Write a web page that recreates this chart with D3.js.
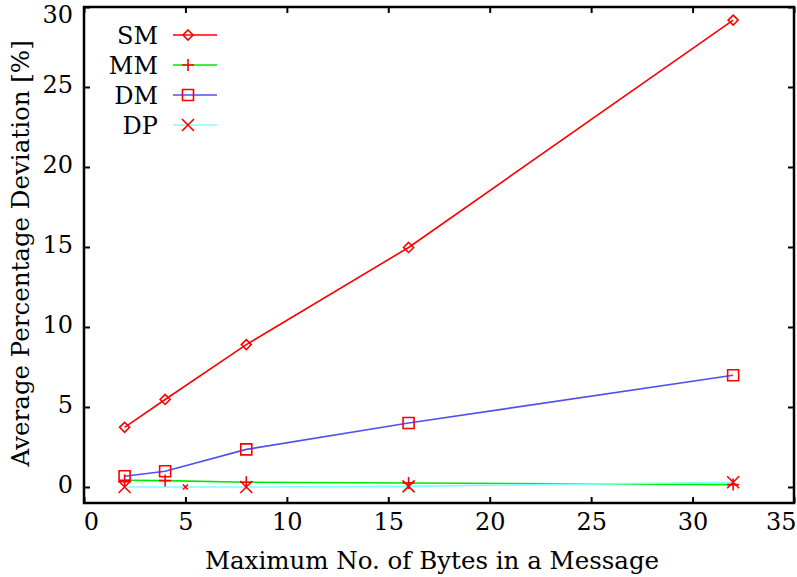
<!DOCTYPE html>
<html>
<head>
<meta charset="utf-8">
<script src="https://cdn.jsdelivr.net/npm/d3@7"></script>
<style>
  body { margin: 0; background: #fff; }
  text { font-family: "DejaVu Serif", serif; fill: #000; }
</style>
</head>
<body>
<div id="chart"></div>
<script>
/* DATA */
const bytes = [2, 4, 8, 16, 32];
const dpBytes = [2, 5, 8, 16, 32];
const smValues = [3.73, 5.47, 8.9, 14.97, 29.18];
const mmValues = [0.42, 0.4, 0.3, 0.25, 0.15];
const dmValues = [0.67, 0.98, 2.35, 4.0, 6.98];
const dpValues = [0.0, 0.0, 0.0, 0.04, 0.3];
const xTicks = [0, 5, 10, 15, 20, 25, 30, 35];
const yTicks = [0, 5, 10, 15, 20, 25, 30];

const series = [
  { name: "SM", xs: bytes, values: smValues, line: "#ff0000", marker: "diamond" },
  { name: "MM", xs: bytes, values: mmValues, line: "#00e800", marker: "plus" },
  { name: "DM", xs: bytes, values: dmValues, line: "#5050f0", marker: "square" },
  { name: "DP", xs: dpBytes, values: dpValues, line: "#80ffff", marker: "cross" }
];

/* CONSTANTS */
const width = 797, height = 577;
const margin = { top: 7, right: 3, bottom: 74, left: 84 };
const fontSize = "24px";

const svg = d3.select("#chart").append("svg")
  .attr("width", width)
  .attr("height", height);

const xScale = d3.scaleLinear()
  .domain([0, 35])
  .range([margin.left, width - margin.right]);

const yScale = d3.scaleLinear()
  .domain([-1, 30])
  .range([height - margin.bottom, margin.top]);

// marker drawing
function marker(sel, type, size) {
  const s = size;
  const path = {
    diamond: `M0,${-s}L${s},0L0,${s}L${-s},0Z`,
    square: `M${-s},${-s}H${s}V${s}H${-s}Z`,
    plus: `M${-s},0H${s}M0,${-s}V${s}`,
    cross: `M${-s},${-s}L${s},${s}M${s},${-s}L${-s},${s}`
  }[type];
  sel.append("path")
    .attr("d", path)
    .attr("fill", "none")
    .attr("stroke", "#ff0000")
    .attr("stroke-width", 1.6);
}
const markerSize = { diamond: 5, square: 5.5, plus: 6, cross: 6 };

/* AXES */
const xAxis = d3.axisBottom(xScale).tickValues(xTicks).tickSize(-6).tickPadding(10);
const yAxis = d3.axisLeft(yScale).tickValues(yTicks).tickSize(-6).tickPadding(11);

const gx = svg.append("g")
  .attr("transform", `translate(0, ${height - margin.bottom})`)
  .call(xAxis);
const gy = svg.append("g")
  .attr("transform", `translate(${margin.left}, 0)`)
  .call(yAxis);

// mirrored ticks on top and right
svg.append("g")
  .attr("transform", `translate(0, ${margin.top})`)
  .call(d3.axisTop(xScale).tickValues(xTicks).tickSize(-6).tickFormat(""));
svg.append("g")
  .attr("transform", `translate(${width - margin.right}, 0)`)
  .call(d3.axisRight(yScale).tickValues(yTicks).tickSize(-6).tickFormat(""));

svg.selectAll(".domain").remove();
svg.selectAll(".tick line").attr("stroke", "#000").attr("stroke-width", 2);
svg.selectAll(".tick text").style("font-size", fontSize).attr("font-family", "DejaVu Serif");
gx.selectAll(".tick text").attr("dy", "0.71em");
gy.selectAll(".tick text").attr("dy", "0.22em");
// outermost labels nudged inward like in the original
gx.selectAll(".tick text").filter(d => d === 0).attr("x", 7);
gx.selectAll(".tick text").filter(d => d === 35).attr("text-anchor", "end").attr("x", 2);
gy.selectAll(".tick text").filter(d => d === 30).attr("dy", "15px");

/* LINES */
const line = xs => d3.line()
  .x((d, i) => xScale(xs[i]))
  .y(d => yScale(d));

series.forEach(s => {
  svg.append("path")
    .datum(s.values)
    .attr("d", line(s.xs))
    .attr("fill", "none")
    .attr("stroke", s.line)
    .attr("stroke-width", 1.6);
});

series.forEach(s => {
  s.values.forEach((v, i) => {
    const g = svg.append("g")
      .attr("transform", `translate(${xScale(s.xs[i])}, ${yScale(v)})`);
    // the DP point at x=5 is drawn with a tiny marker in the original
    const size = (s.name === "DP" && i === 1) ? 2.5 : markerSize[s.marker];
    marker(g, s.marker, size);
  });
});

/* FRAME */
svg.append("rect")
  .attr("x", margin.left)
  .attr("y", margin.top)
  .attr("width", width - margin.right - margin.left)
  .attr("height", height - margin.bottom - margin.top)
  .attr("fill", "none")
  .attr("stroke", "#000")
  .attr("stroke-width", 2.5);

/* LEGEND */
const legend = svg.append("g");
series.forEach((s, i) => {
  const y = 35 + i * 30;
  legend.append("text")
    .attr("x", 158)
    .attr("y", y)
    .attr("dy", "0.36em")
    .attr("text-anchor", "end")
    .style("font-size", fontSize)
    .text(s.name);
  legend.append("line")
    .attr("x1", 173).attr("x2", 217)
    .attr("y1", y).attr("y2", y)
    .attr("stroke", s.line)
    .attr("stroke-width", 1.6);
  const g = legend.append("g").attr("transform", `translate(188, ${y})`);
  marker(g, s.marker, markerSize[s.marker]);
});

/* TITLES */
svg.append("text")
  .attr("x", 432)
  .attr("y", 569)
  .attr("text-anchor", "middle")
  .style("font-size", "24.5px")
  .text("Maximum No. of Bytes in a Message");

svg.append("text")
  .attr("transform", `translate(29, ${yScale(14.6)}) rotate(-90)`)
  .attr("text-anchor", "middle")
  .style("font-size", "24.5px")
  .text("Average Percentage Deviation [%]");
</script>
</body>
</html>
